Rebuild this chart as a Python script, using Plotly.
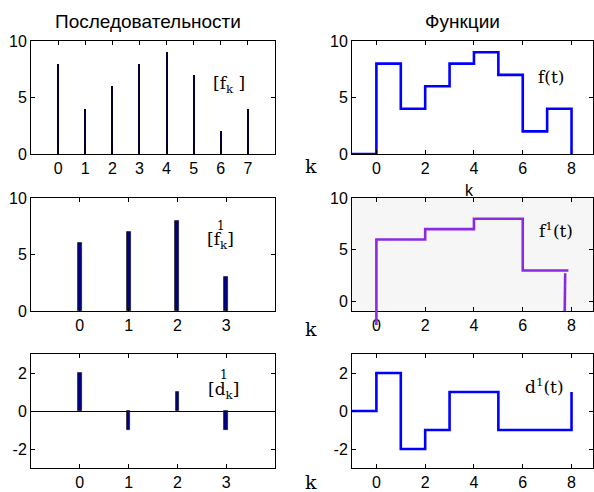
import plotly.graph_objects as go

W, H = 594, 492

# ---- data ----
k_seq = [0, 1, 2, 3, 4, 5, 6, 7]
f_seq = [8, 4, 6, 8, 9, 7, 2, 4]

t_f = [-1, 0, 1, 2, 3, 4, 5, 6, 7, 8]
f_t = [0, 8, 4, 6, 8, 9, 7, 2, 4, 0]

k_half = [0, 1, 2, 3]
f1_seq = [6, 7, 8, 3]
d1_seq = [2, -1, 1, -1]

t_f1 = [0, 0, 2, 4, 6, 7.87]
f1_t = [-2.25, 6, 7, 8, 3, 3]
t_f1_tail = [7.74, 7.72]
f1_tail = [2.75, -1.1]

t_d = [-1, 0, 1, 2, 3, 5, 8, 8]
d1_t = [0, 2, -2, -1, 1, -1, -1, 1]

y_ticks_pos = [0, 5, 10]
y_ticks_d = [-2, 0, 2]
y_ticks_d_text = ["-2", "0", "2"]
t_ticks = [0, 2, 4, 6, 8]

titles = ["Последовательности", "Функции"]


def xd(a, b):
    return [a / W, b / W]


def yd(top, bottom):
    return [1 - bottom / H, 1 - top / H]


fig = go.Figure()

STEM_DARK = "#000033"
NAVY = "#000080"
BLUE = "#0000ff"
PURPLE = "#8a2be2"

fig.add_trace(go.Bar(x=k_seq, y=f_seq, width=0.075, marker=dict(color=STEM_DARK, line=dict(width=0)),
                     xaxis="x", yaxis="y"))
fig.add_trace(go.Scatter(x=t_f, y=f_t, mode="lines", line=dict(color=BLUE, width=2.6, shape="hv"),
                         xaxis="x2", yaxis="y2"))
fig.add_trace(go.Bar(x=k_half, y=f1_seq, width=0.08,
                     marker=dict(color=NAVY, line=dict(color="#222222", width=0.8)),
                     xaxis="x3", yaxis="y3"))
fig.add_trace(go.Scatter(x=t_f1_tail, y=f1_tail, mode="lines", line=dict(color=PURPLE, width=2.6),
                         xaxis="x4", yaxis="y4"))
fig.add_trace(go.Bar(x=k_half, y=d1_seq, width=0.07,
                     marker=dict(color=NAVY, line=dict(color="#222222", width=0.8)),
                     xaxis="x5", yaxis="y5"))
fig.add_trace(go.Scatter(x=t_d, y=d1_t, mode="lines", line=dict(color=BLUE, width=2.6, shape="hv"),
                         xaxis="x6", yaxis="y6"))
fig.add_trace(go.Scatter(x=t_f1, y=f1_t, mode="lines", line=dict(color=PURPLE, width=2.6, shape="hv"),
                         xaxis="x7", yaxis="y7"))

tickfont = dict(family="Liberation Sans, Arial, sans-serif", size=16, color="black")
common = dict(showline=True, linecolor="black", linewidth=1, mirror="ticks", ticks="inside",
              ticklen=4, tickcolor="black", showgrid=False, zeroline=False, tickfont=tickfont,
              fixedrange=True, automargin=False)

LX = xd(31, 275)
RX = xd(352, 593)
R1 = yd(41, 154)
R2 = yd(198, 311)
R3 = yd(354, 468)
T_RANGE = [-1, 8.88]

y5 = dict(common)
y5.update(zeroline=True, zerolinecolor="black", zerolinewidth=1)

fig.update_layout(
    xaxis=dict(domain=LX, range=[-1, 8], tickvals=k_seq, anchor="y", **common),
    yaxis=dict(domain=R1, range=[0, 10], tickvals=y_ticks_pos, anchor="x", **common),
    xaxis2=dict(domain=RX, range=T_RANGE, tickvals=t_ticks, anchor="y2", **common),
    yaxis2=dict(domain=R1, range=[0, 10], tickvals=y_ticks_pos, anchor="x2", **common),
    xaxis3=dict(domain=LX, range=[-1, 4], tickvals=k_half, anchor="y3", **common),
    yaxis3=dict(domain=R2, range=[0, 10], tickvals=y_ticks_pos, anchor="x3", **common),
    xaxis4=dict(domain=RX, range=T_RANGE, tickvals=t_ticks, anchor="y4", **common),
    yaxis4=dict(domain=R2, range=[-0.9, 10], tickvals=y_ticks_pos, anchor="x4", **common),
    xaxis5=dict(domain=LX, range=[-1, 4], tickvals=k_half, anchor="y5", **common),
    yaxis5=dict(domain=R3, range=[-3, 3], tickvals=y_ticks_d, ticktext=y_ticks_d_text, anchor="x5", **y5),
    xaxis6=dict(domain=RX, range=T_RANGE, tickvals=t_ticks, anchor="y6", **common),
    yaxis6=dict(domain=R3, range=[-3, 3], tickvals=y_ticks_d, ticktext=y_ticks_d_text, anchor="x6", **common),
    xaxis7=dict(domain=RX, range=T_RANGE, visible=False, anchor="y7", fixedrange=True),
    yaxis7=dict(domain=yd(198, 330), range=[10 - 132 * (10.9 / 113), 10], visible=False,
                anchor="x7", fixedrange=True),
)

fig.add_shape(type="rect", xref="x4 domain", yref="y4 domain", x0=0, x1=1, y0=0, y1=1,
              fillcolor="#f6f6f6", line=dict(width=0), layer="below")

serif = dict(family="DejaVu Serif, serif", size=17, color="black")
sans = dict(family="Liberation Sans, Arial, sans-serif", size=16, color="black")


def ann(text, px, py, font, **kw):
    fig.add_annotation(text=text, x=px / W, y=1 - py / H, xref="paper", yref="paper",
                       showarrow=False, font=font, xanchor="center", yanchor="middle", **kw)


ann(titles[0], 148, 22, dict(sans, size=19))
ann(titles[1], 463, 21, dict(sans, size=19))
ann("k", 470, 190, sans)

ann("[f<sub>k</sub> ]", 229, 84, serif)
ann("f(t)", 551, 77, serif)
ann("[f<sub>k</sub>]", 220, 240, serif)
ann("1", 221, 226, dict(serif, size=12))
ann("f<sup>1</sup>(t)", 556, 230, serif)
ann("[d<sub>k</sub>]", 223, 390, serif)
ann("1", 224, 375, dict(serif, size=12))
ann("d<sup>1</sup>(t)", 544, 386, serif)

for py in (166, 329, 482):
    ann("k", 311, py, dict(serif, size=19))

fig.update_layout(width=W, height=H, margin=dict(l=0, r=0, t=0, b=0, pad=0), showlegend=False,
                  paper_bgcolor="white", plot_bgcolor="rgba(0,0,0,0)", bargap=0)

fig.write_html("out.html", config={"displayModeBar": False},
               post_script="document.body.style.margin='0px';")
